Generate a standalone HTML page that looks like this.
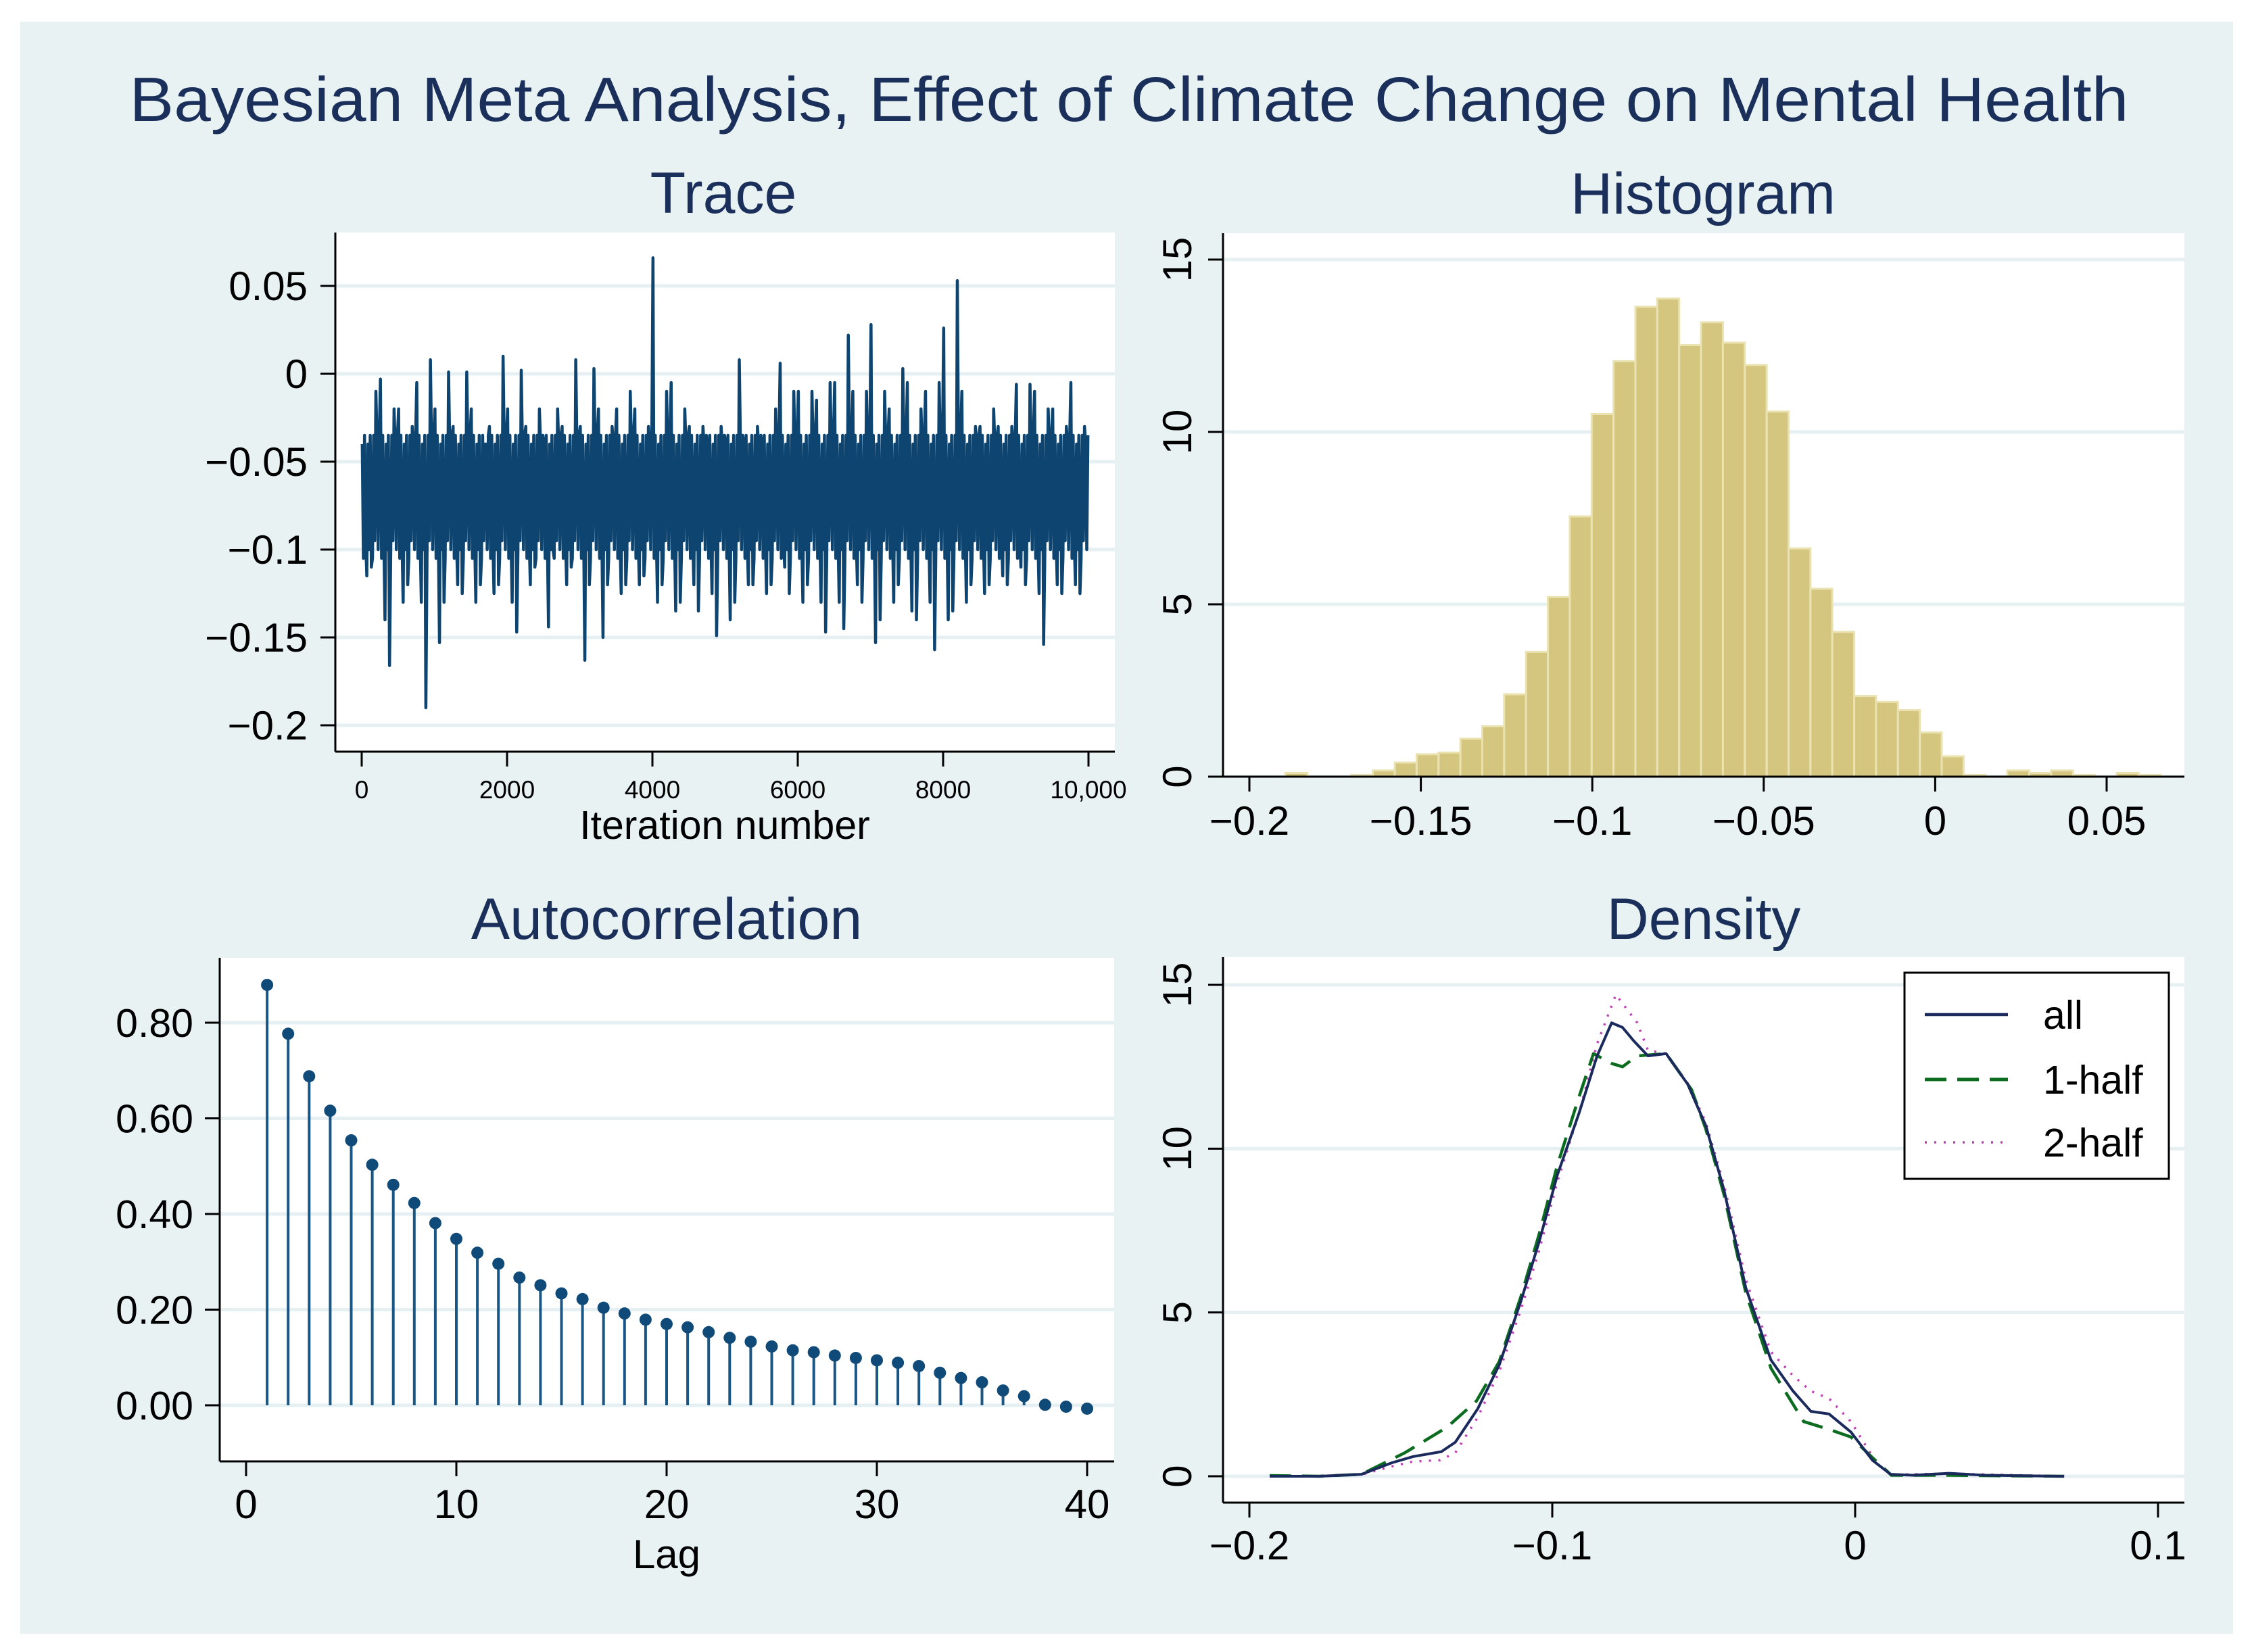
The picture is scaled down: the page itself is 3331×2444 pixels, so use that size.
<!DOCTYPE html>
<html><head><meta charset="utf-8"><style>
html,body{margin:0;padding:0;background:#fff;}
svg{display:block;font-family:"Liberation Sans",Arial,sans-serif;}
</style></head><body>
<svg id="fig" width="3331" height="2444" viewBox="0 0 3331 2444" xmlns="http://www.w3.org/2000/svg">
<rect x="30" y="32" width="3273" height="2385" fill="#e9f2f3"/>
<text x="1670" y="179" font-size="93" fill="#1b2f5b" text-anchor="middle" textLength="2957" lengthAdjust="spacingAndGlyphs">Bayesian Meta Analysis, Effect of Climate Change on Mental Health</text>
<g id="g"></g>
</svg>
<script>
// ---- data ----
const traceBinIter = [0,125,250,375,500,625,750,875,1000,1125,1250,1375,1500,1625,1750,1875,2000,2125,2250,2375,2500,2625,2750,2875,3000,3125,3250,3375,3500,3625,3750,3875,4000,4125,4250,4375,4500,4625,4750,4875,5000,5125,5250,5375,5500,5625,5750,5875,6000,6125,6250,6375,6500,6625,6750,6875,7000,7125,7250,7375,7500,7625,7750,7875,8000,8125,8250,8375,8500,8625,8750,8875,9000,9125,9250,9375,9500,9625,9750,9875];
const traceHi = [-0.04,-0.01,-0.003,-0.02,-0.02,-0.03,-0.005,0.008,-0.02,0.001,-0.03,0.001,-0.02,-0.04,-0.03,0.01,-0.02,0.002,-0.03,-0.02,-0.04,-0.02,-0.03,0.008,-0.03,0.003,-0.02,-0.03,-0.02,-0.01,-0.02,-0.03,0.066,-0.01,-0.005,-0.02,-0.03,-0.03,-0.04,-0.03,-0.04,0.008,-0.04,-0.03,-0.04,-0.02,0.006,-0.01,-0.01,-0.01,-0.015,-0.005,-0.005,0.022,-0.01,-0.01,0.028,-0.01,-0.02,0.003,-0.005,-0.02,-0.01,-0.005,0.026,0.053,-0.01,-0.03,-0.03,-0.02,-0.03,-0.03,-0.006,-0.006,-0.01,-0.02,-0.02,-0.03,-0.005,-0.03];
const traceLo = [-0.115,-0.11,-0.14,-0.166,-0.13,-0.12,-0.13,-0.19,-0.153,-0.13,-0.12,-0.125,-0.13,-0.12,-0.125,-0.12,-0.13,-0.147,-0.12,-0.11,-0.144,-0.1,-0.12,-0.11,-0.163,-0.12,-0.15,-0.12,-0.125,-0.12,-0.12,-0.115,-0.13,-0.12,-0.135,-0.13,-0.12,-0.135,-0.125,-0.149,-0.14,-0.13,-0.12,-0.12,-0.125,-0.12,-0.11,-0.125,-0.13,-0.12,-0.13,-0.147,-0.13,-0.145,-0.12,-0.13,-0.153,-0.14,-0.13,-0.12,-0.135,-0.14,-0.13,-0.157,-0.14,-0.135,-0.13,-0.12,-0.125,-0.12,-0.115,-0.12,-0.11,-0.12,-0.125,-0.154,-0.12,-0.125,-0.12,-0.125];
const traceCore = [-0.105,-0.035];
const traceYTicks = [0.05,0,-0.05,-0.1,-0.15,-0.2];
const traceYLabels = ["0.05","0","\u22120.05","\u22120.1","\u22120.15","\u22120.2"];
const traceXTicks = [0,2000,4000,6000,8000,10000];
const traceXLabels = ["0","2000","4000","6000","8000","10,000"];

const histStart = -0.1895;
const histWidth = 0.00638;
const histHeights = [0.11,0,0,0.05,0.18,0.41,0.65,0.70,1.10,1.46,2.39,3.62,5.21,7.55,10.52,12.05,13.63,13.87,12.52,13.18,12.59,11.94,10.59,6.62,5.45,4.20,2.34,2.17,1.93,1.28,0.59,0.05,0,0.18,0.11,0.18,0.05,0,0.11,0.05];
const histXTicks = [-0.2,-0.15,-0.1,-0.05,0,0.05];
const histXLabels = ["\u22120.2","\u22120.15","\u22120.1","\u22120.05","0","0.05"];
const histYTicks = [0,5,10,15];

const acfLags = [1,2,3,4,5,6,7,8,9,10,11,12,13,14,15,16,17,18,19,20,21,22,23,24,25,26,27,28,29,30,31,32,33,34,35,36,37,38,39,40];
const acfValues = [0.879,0.777,0.688,0.616,0.554,0.503,0.461,0.423,0.381,0.348,0.319,0.296,0.267,0.251,0.234,0.222,0.204,0.192,0.179,0.170,0.163,0.153,0.141,0.133,0.123,0.115,0.111,0.104,0.099,0.094,0.089,0.082,0.068,0.057,0.048,0.031,0.019,0.001,-0.003,-0.007];
const acfYTicks = [0,0.2,0.4,0.6,0.8];
const acfYLabels = ["0.00","0.20","0.40","0.60","0.80"];
const acfXTicks = [0,10,20,30,40];

const densAllX = [-0.1933,-0.177,-0.163,-0.153,-0.146,-0.1366,-0.132,-0.1246,-0.1175,-0.1103,-0.1043,-0.0983,-0.0911,-0.0852,-0.0804,-0.0768,-0.0732,-0.0684,-0.0624,-0.0553,-0.0493,-0.0433,-0.0361,-0.0278,-0.0206,-0.0146,-0.0086,-0.0014,0.0057,0.0117,0.019,0.031,0.043,0.069];
const densAllY = [0,0,0.06,0.41,0.6,0.75,1.04,2.06,3.4,5.36,7.17,9.2,11.1,12.83,13.84,13.7,13.3,12.83,12.9,11.97,10.7,8.74,5.75,3.55,2.61,1.98,1.9,1.35,0.49,0.06,0.03,0.09,0.03,0];
const densH1X = [-0.1933,-0.177,-0.163,-0.1486,-0.1347,-0.125,-0.1175,-0.1103,-0.1043,-0.0983,-0.0911,-0.0864,-0.0804,-0.0768,-0.072,-0.0624,-0.054,-0.0493,-0.0433,-0.0361,-0.0278,-0.017,-0.0086,-0.0014,0.0057,0.012,0.031,0.069];
const densH1Y = [0.02,0,0.06,0.72,1.5,2.3,3.5,5.5,7.4,9.5,11.6,12.9,12.6,12.5,12.83,12.9,11.8,10.6,8.6,5.6,3.3,1.67,1.43,1.2,0.57,0.03,0.03,0];
const densH2X = [-0.1933,-0.177,-0.163,-0.153,-0.146,-0.137,-0.132,-0.1246,-0.1175,-0.1103,-0.1043,-0.0983,-0.0911,-0.0852,-0.079,-0.072,-0.0684,-0.0624,-0.0553,-0.0493,-0.0433,-0.0361,-0.0278,-0.0206,-0.0146,-0.0086,-0.0014,0.007,0.0117,0.031,0.069];
const densH2Y = [0,0,0.05,0.3,0.45,0.49,0.72,1.8,3.2,5.1,6.9,9.0,11.1,13.2,14.7,13.85,13.0,12.9,12.0,10.8,8.9,6.0,3.8,3.08,2.6,2.37,1.67,0.41,0.05,0.08,0];
const densXTicks = [-0.2,-0.1,0,0.1];
const densXLabels = ["\u22120.2","\u22120.1","0","0.1"];
const densYTicks = [0,5,10,15];
const legendLabels = ["all","1-half","2-half"];

// ---- helpers ----
const NS = "http://www.w3.org/2000/svg";
const root = document.getElementById("g");
function mk(tag, attrs, parent) {
  const e = document.createElementNS(NS, tag);
  for (const k in attrs) e.setAttribute(k, attrs[k]);
  (parent || root).appendChild(e);
  return e;
}
function lin(d0, d1, p0, p1) { return v => p0 + (v - d0) * (p1 - p0) / (d1 - d0); }
const GRID = "#e6eff1", AX = "#000";

function panel(name, box, title, tx, ty) {
  const g = mk("g", {});
  
  
  const r = mk("rect", {x: box[0], y: box[1], width: box[2]-box[0], height: box[3]-box[1], fill: "#fff"}, g);
  
  
  const t = mk("text", {x: tx, y: ty, "font-size": 86, fill: "#1b2f5b", "text-anchor": "middle"}, g);
  t.textContent = title;
  
  
  return g;
}
function gridlines(g, name, box, ys) {
  ys.forEach(y => {
    const l = mk("line", {x1: box[0], x2: box[2], y1: y, y2: y, stroke: GRID, "stroke-width": 5}, g);
    
    
  });
}
function axes(g, name, box) {
  const a = mk("line", {x1: box[0], x2: box[0], y1: box[1], y2: box[3], stroke: AX, "stroke-width": 3}, g);
  
  
  const b = mk("line", {x1: box[0], x2: box[2], y1: box[3], y2: box[3], stroke: AX, "stroke-width": 3}, g);
  
  
}
function xticks(g, name, box, xs, labels, fs, ly) {
  xs.forEach((x, i) => {
    const t = mk("line", {x1: x, x2: x, y1: box[3], y2: box[3] + 22, stroke: AX, "stroke-width": 3}, g);
    
    
    const s = mk("text", {x: x, y: ly, "font-size": fs, "text-anchor": "middle", fill: "#000"}, g);
    s.textContent = labels[i];
    
    
  });
}
function yticksH(g, name, box, ys, labels, fs, rx) {
  ys.forEach((y, i) => {
    const t = mk("line", {x1: box[0] - 22, x2: box[0], y1: y, y2: y, stroke: AX, "stroke-width": 3}, g);
    
    
    const s = mk("text", {x: rx, y: y + 21, "font-size": fs, "text-anchor": "end", fill: "#000"}, g);
    s.textContent = labels[i];
    
    
  });
}
function yticksV(g, name, box, ys, labels, fs, cx) {
  ys.forEach((y, i) => {
    const t = mk("line", {x1: box[0] - 22, x2: box[0], y1: y, y2: y, stroke: AX, "stroke-width": 3}, g);
    
    
    const s = mk("text", {x: 0, y: 0, "font-size": fs, "text-anchor": "middle", fill: "#000",
      transform: "translate(" + (cx + 21) + "," + y + ") rotate(-90)"}, g);
    s.textContent = labels[i];
    
    
  });
}

// ---- Trace ----
(function () {
  const box = [496, 344, 1649, 1112];
  const X = lin(0, 10000, 535, 1610), Y = lin(0, 0.05, 553, 423);
  const g = panel("trace", box, "Trace", 1070, 315);
  gridlines(g, "trace", box, traceYTicks.map(Y));
  const pts = [];
  traceBinIter.forEach((it, i) => {
    const w = 125;
    const ext = i % 2 === 0 ? [traceHi[i], traceLo[i]] : [traceLo[i], traceHi[i]];
    const seq = [ext[0], traceCore[0], traceCore[1], traceCore[0] + 0.01, ext[1], traceCore[1] - 0.005, traceCore[0] + 0.005, traceCore[1]];
    seq.forEach((v, k) => pts.push(X(it + w * (k + 0.5) / seq.length) + "," + Y(v)));
  });
  const pl = mk("polyline", {points: pts.join(" "), fill: "none", stroke: "#0d4470", "stroke-width": 4.5, "stroke-linejoin": "round"}, g);
  
  
  axes(g, "trace", box);
  yticksH(g, "trace", box, traceYTicks.map(Y), traceYLabels, 60, 455);
  xticks(g, "trace", box, traceXTicks.map(X), traceXLabels, 37, 1181);
  const xl = mk("text", {x: 1072, y: 1241, "font-size": 59, "text-anchor": "middle", fill: "#000"}, g);
  xl.textContent = "Iteration number";
  
  
})();

// ---- Histogram ----
(function () {
  const box = [1809, 345, 3231, 1149];
  const X = lin(-0.2, 0.05, 1848, 3116), Y = lin(0, 15, 1149, 384);
  const g = panel("histogram", box, "Histogram", 2519, 316);
  gridlines(g, "histogram", box, histYTicks.map(Y));
  histHeights.forEach((h, i) => {
    if (h <= 0) return;
    const x0 = X(histStart + i * histWidth), x1 = X(histStart + (i + 1) * histWidth);
    const r = mk("rect", {x: x0, y: Y(h), width: x1 - x0, height: Y(0) - Y(h), fill: "#d4c67f", stroke: "#ebe2b2", "stroke-width": 3}, g);
    
    
  });
  axes(g, "histogram", box);
  yticksV(g, "histogram", box, histYTicks.map(Y), histYTicks.map(String), 60, 1741);
  xticks(g, "histogram", box, histXTicks.map(X), histXLabels, 60, 1235);
})();

// ---- Autocorrelation ----
(function () {
  const box = [325, 1417, 1648, 2162];
  const X = lin(0, 40, 364, 1608), Y = lin(0, 0.8, 2079, 1513);
  const g = panel("autocorrelation", box, "Autocorrelation", 986, 1389);
  gridlines(g, "autocorrelation", box, acfYTicks.map(Y));
  acfLags.forEach((lag, i) => {
    const s = mk("line", {x1: X(lag), x2: X(lag), y1: Y(0), y2: Y(acfValues[i]), stroke: "#1a5684", "stroke-width": 4}, g);
    
    
    const c = mk("circle", {cx: X(lag), cy: Y(acfValues[i]), r: 9, fill: "#0f4a78"}, g);
    
    
  });
  axes(g, "autocorrelation", box);
  yticksH(g, "autocorrelation", box, acfYTicks.map(Y), acfYLabels, 59, 286);
  xticks(g, "autocorrelation", box, acfXTicks.map(X), acfXTicks.map(String), 60, 2246);
  const xl = mk("text", {x: 986, y: 2320, "font-size": 60, "text-anchor": "middle", fill: "#000"}, g);
  xl.textContent = "Lag";
  
  
})();

// ---- Density ----
(function () {
  const box = [1809, 1416, 3231, 2223];
  const X = lin(-0.2, 0.1, 1848, 3192), Y = lin(0, 15, 2184, 1457);
  const g = panel("density", box, "Density", 2520, 1389);
  gridlines(g, "density", box, densYTicks.map(Y));
  function curve(xs, ys, color, w, dash, name) {
    const p = mk("polyline", {points: xs.map((x, i) => X(x) + "," + Y(ys[i])).join(" "), fill: "none", stroke: color, "stroke-width": w, "stroke-dasharray": dash, "stroke-linejoin": "round"}, g);
    
    
  }
  curve(densH2X, densH2Y, "#c23fb8", 3.5, "3 11", "density-2-half-line");
  curve(densH1X, densH1Y, "#0b6b1f", 4.5, "32 16", "density-1-half-line");
  curve(densAllX, densAllY, "#1b2a5c", 4, "none", "density-all-line");
  axes(g, "density", box);
  yticksV(g, "density", box, densYTicks.map(Y), densYTicks.map(String), 60, 1741);
  xticks(g, "density", box, densXTicks.map(X), densXLabels, 60, 2307);
  const lg = mk("g", {}, g);
  
  
  const lb = mk("rect", {x: 2817, y: 1439, width: 391, height: 305, fill: "#fff", stroke: "#000", "stroke-width": 3}, lg);
  
  
  const cols = ["#1b2a5c", "#0b6b1f", "#c23fb8"], dashes = ["none", "32 16", "3 11"], ws = [4.5, 5, 3.5];
  const ly = [1501, 1597, 1690];
  legendLabels.forEach((t, i) => {
    const s = mk("line", {x1: 2847, x2: 2970, y1: ly[i], y2: ly[i], stroke: cols[i], "stroke-width": ws[i], "stroke-dasharray": dashes[i]}, lg);
    
    
    const tx = mk("text", {x: 3022, y: ly[i] + 21, "font-size": 59, fill: "#000"}, lg);
    tx.textContent = t;
    
    
  });
})();
</script>
</body></html>
